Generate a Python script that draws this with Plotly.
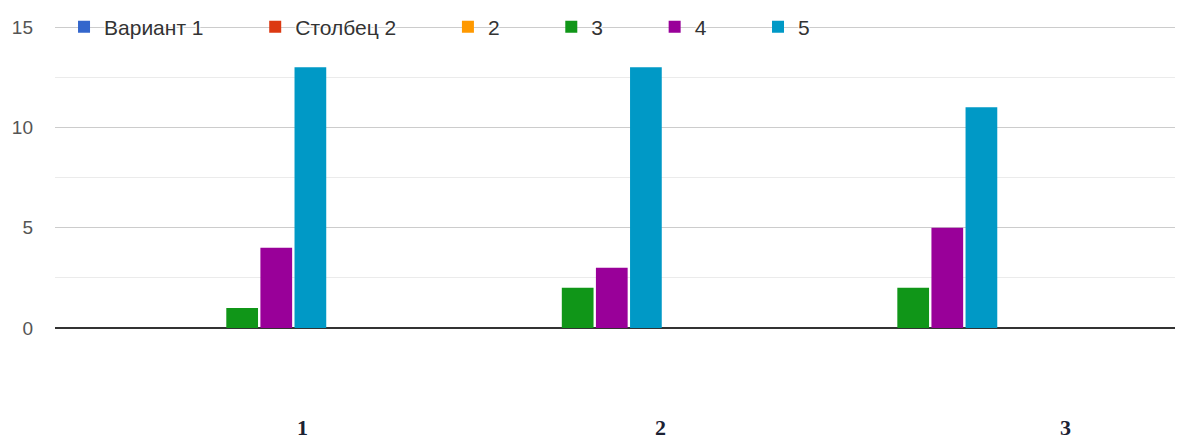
import plotly.graph_objects as go

categories = ["1", "2", "3"]
series_names = ["Вариант 1", "Столбец 2", "2", "3", "4", "5"]
series_values = [
    [0, 0, 0],
    [0, 0, 0],
    [0, 0, 0],
    [1, 2, 2],
    [4, 3, 5],
    [13, 13, 11],
]
colors = ["#3366cc", "#dc3912", "#ff9900", "#109618", "#990099", "#0099c6"]
label_offsets = [0.232, 0.297, 0.504]  # horizontal shift of category labels

PAD = "\u00a0" * 8  # extra spacing between legend entries

x = list(range(len(categories)))
fig = go.Figure()
for name, vals, c in zip(series_names, series_values, colors):
    fig.add_trace(go.Bar(x=x, y=vals, name=name + PAD, marker=dict(color=c, line=dict(width=0))))

for i, (cat, off) in enumerate(zip(categories, label_offsets)):
    fig.add_annotation(x=i + off, y=0, xref="x", yref="y", text="<b>" + cat + "</b>", showarrow=False,
                       yshift=-99, font=dict(family="Liberation Serif", size=22, color="#1c2233"))

halo = ", ".join(["0px 0px 2px white"] * 6)

fig.update_layout(
    width=1183, height=438,
    margin=dict(l=47, r=8, t=16, b=118, autoexpand=False),
    paper_bgcolor="white", plot_bgcolor="white",
    barmode="group", bargap=0.39, bargroupgap=0.07,
    font=dict(family="Liberation Sans", size=19, color="#444"),
    legend=dict(orientation="h", x=0.008, y=0.99, xanchor="left", yanchor="middle",
                bgcolor="rgba(0,0,0,0)", font=dict(size=21, color="#333", shadow=halo),
                itemwidth=30, traceorder="normal"),
    xaxis=dict(range=[-0.507, 2.855], showticklabels=False, showgrid=False, zeroline=False),
    yaxis=dict(range=[0, 15.15], tickvals=[0, 5, 10, 15], showgrid=True, gridcolor="#cccccc",
               zeroline=True, zerolinecolor="#333", zerolinewidth=1.5,
               minor=dict(tickvals=[2.5, 7.5, 12.5], showgrid=True, gridcolor="#ebebeb"),
               tickfont=dict(size=19, color="#555"), ticklabelstandoff=21),
)
fig.write_html("out.html")
